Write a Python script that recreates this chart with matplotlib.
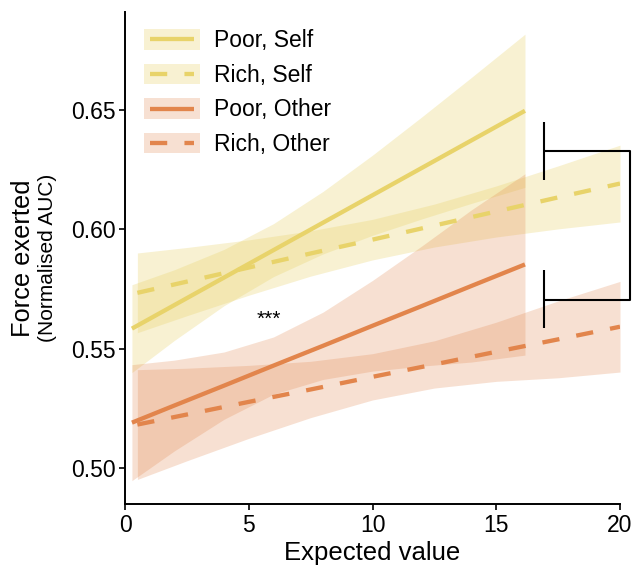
import matplotlib
matplotlib.use("Agg")
import matplotlib.pyplot as plt
from matplotlib.patches import Rectangle
from matplotlib.lines import Line2D
from matplotlib.legend_handler import HandlerBase

plt.rcParams['font.family'] = ['Liberation Sans', 'DejaVu Sans']

# ---- data ----
labels = ["Poor, Self", "Rich, Self", "Poor, Other", "Rich, Other"]

ps_x = [0.28, 2, 4, 6, 8, 10, 12, 14, 16.16]
ps_y = [0.5584, 0.5683, 0.5798, 0.5913, 0.6028, 0.6143, 0.6258, 0.6373, 0.6497]
ps_lo = [0.5400, 0.5535, 0.5680, 0.5802, 0.5897, 0.5975, 0.6044, 0.6109, 0.6176]
ps_hi = [0.5768, 0.5831, 0.5916, 0.6024, 0.6159, 0.6311, 0.6472, 0.6637, 0.6818]

rs_x = [0.5, 2.5, 5, 7.5, 10, 12.5, 15, 17.5, 20]
rs_y = [0.5734, 0.5781, 0.5840, 0.5899, 0.5957, 0.6016, 0.6075, 0.6134, 0.6192]
rs_lo = [0.5567, 0.5638, 0.5724, 0.5804, 0.5872, 0.5926, 0.5968, 0.6002, 0.6031]
rs_hi = [0.5901, 0.5924, 0.5956, 0.5994, 0.6042, 0.6106, 0.6182, 0.6266, 0.6353]

po_x = [0.28, 2, 4, 6, 8, 10, 12, 14, 16.16]
po_y = [0.5190, 0.5262, 0.5345, 0.5429, 0.5512, 0.5596, 0.5679, 0.5763, 0.5853]
po_lo = [0.4947, 0.5072, 0.5204, 0.5309, 0.5371, 0.5406, 0.5427, 0.5444, 0.5473]
po_hi = [0.5433, 0.5452, 0.5486, 0.5549, 0.5653, 0.5786, 0.5931, 0.6082, 0.6233]

ro_x = [0.5, 2.5, 5, 7.5, 10, 12.5, 15, 17.5, 20]
ro_y = [0.5182, 0.5224, 0.5277, 0.5329, 0.5382, 0.5434, 0.5487, 0.5539, 0.5592]
ro_lo = [0.4952, 0.5030, 0.5124, 0.5211, 0.5285, 0.5335, 0.5363, 0.5378, 0.5402]
ro_hi = [0.5412, 0.5418, 0.5430, 0.5447, 0.5479, 0.5533, 0.5611, 0.5700, 0.5782]

xticks = [0, 5, 10, 15, 20]
yticks = [0.50, 0.55, 0.60, 0.65]
ytick_labels = ["0.50", "0.55", "0.60", "0.65"]

# bracket and annotation
bracket_x = [16.93, 20.4]
bracket_top = [0.6207, 0.6329, 0.6450]
bracket_bot = [0.5588, 0.5705, 0.5831]
star_pos = (5.8, 0.5625)

YEL = "#E8D36A"
ORA = "#E2854C"
YEL_ALPHA = 0.30
ORA_ALPHA = 0.25
LW = 3.1
DASH = (0, (4, 4))


class LegendKey:
    def __init__(self, color, alpha, ls):
        self.color, self.alpha, self.ls = color, alpha, ls


class RibbonLineHandler(HandlerBase):
    def create_artists(self, legend, orig_handle, xdescent, ydescent,
                       width, height, fontsize, trans):
        x0, y0 = -xdescent, -ydescent
        rect = Rectangle((x0, y0), width, height, facecolor=orig_handle.color,
                         alpha=orig_handle.alpha, edgecolor='none', transform=trans)
        inset = 0.105 * width
        line = Line2D([x0 + inset, x0 + width - inset], [y0 + height / 2] * 2,
                      color=orig_handle.color, lw=LW, linestyle=orig_handle.ls,
                      solid_capstyle='butt', dash_capstyle='butt', transform=trans)
        return [rect, line]


fig = plt.figure(figsize=(6.34, 5.66), dpi=100)
ax = fig.add_axes([125/634, 1-504/566, 495/634, 492/566])

series = [
    (ps_x, ps_y, ps_lo, ps_hi, YEL, YEL_ALPHA, '-'),
    (rs_x, rs_y, rs_lo, rs_hi, YEL, YEL_ALPHA, DASH),
    (po_x, po_y, po_lo, po_hi, ORA, ORA_ALPHA, '-'),
    (ro_x, ro_y, ro_lo, ro_hi, ORA, ORA_ALPHA, DASH),
]
for (x, y, lo, hi, c, a, ls) in series:
    ax.fill_between(x, lo, hi, color=c, alpha=a, linewidth=0)
for (x, y, lo, hi, c, a, ls) in series:
    ax.plot(x, y, color=c, lw=LW, linestyle=ls, solid_capstyle='butt', dash_capstyle='butt')
handles = [LegendKey(c, a, ls) for (x, y, lo, hi, c, a, ls) in series]

leg = ax.legend(handles, labels, handler_map={LegendKey: RibbonLineHandler()},
                loc='upper left', bbox_to_anchor=(0.0384, 0.965), frameon=False,
                fontsize=16.5, handlelength=2.45, handleheight=1.0, labelspacing=0.50,
                handletextpad=0.6, borderpad=0, borderaxespad=0)

# bracket
kw = dict(color='black', lw=1.5, clip_on=False, solid_capstyle='butt')
ax.plot([bracket_x[0], bracket_x[0]], [bracket_top[0], bracket_top[2]], **kw)
ax.plot([bracket_x[0], bracket_x[0]], [bracket_bot[0], bracket_bot[2]], **kw)
ax.plot([bracket_x[0], bracket_x[1], bracket_x[1], bracket_x[0]],
        [bracket_top[1], bracket_top[1], bracket_bot[1], bracket_bot[1]], **kw)

ax.text(star_pos[0], star_pos[1], "***", ha='center', va='center', fontsize=15)

ax.set_xlim(0, 20)
ax.set_ylim(0.4849, 0.6911)
ax.set_xticks(xticks)
ax.set_xticklabels([str(t) for t in xticks])
ax.set_yticks(yticks)
ax.set_yticklabels(ytick_labels)
for s in ['top', 'right']:
    ax.spines[s].set_visible(False)
for s in ['left', 'bottom']:
    ax.spines[s].set_linewidth(1.4)
ax.tick_params(axis='both', direction='out', length=4, width=1.2, labelsize=16.5,
               colors='black', pad=3)

ax.set_xlabel("Expected value", fontsize=18.5, labelpad=3)
fig.text(23/634, 1-258/566, "Force exerted", rotation=90, ha='center', va='center', fontsize=18.3)
fig.text(48/634, 1-258/566, "(Normalised AUC)", rotation=90, ha='center', va='center', fontsize=15)

fig.savefig("out.png", dpi=100)
